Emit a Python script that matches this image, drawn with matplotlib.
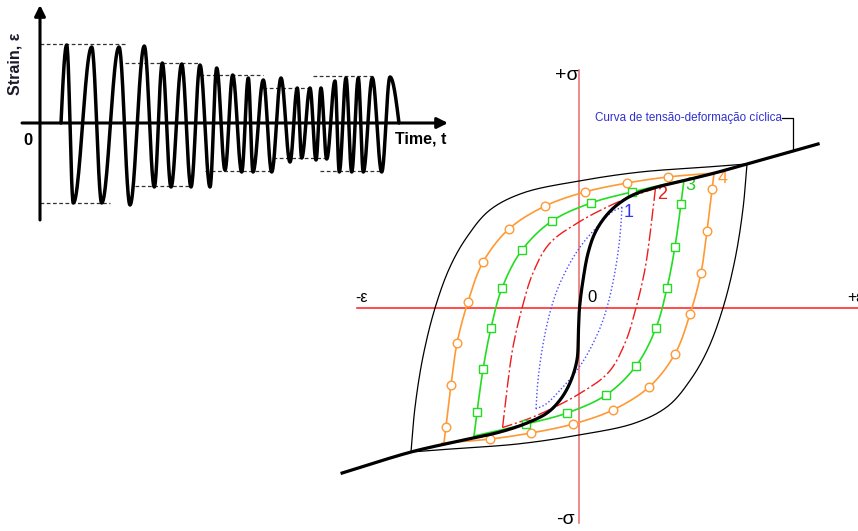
import numpy as np
import matplotlib
matplotlib.use('Agg')
import matplotlib.pyplot as plt

plt.rcParams['font.family'] = ['Liberation Sans', 'DejaVu Sans']

# --- strain history (time, strain) ---
sig_start = 21
sig_end = 359
peak_t = [26.7, 51.7, 79, 104.3, 122.3, 141.7, 160, 176.7, 192.7, 208.3,
          223.3, 241, 257.3, 270, 281, 295, 306, 318.3, 332.3, 350]
peak_s = [78, 76, 76, 77, 60, 59, 58, 55, 48, 45,
          43, 45, 35, 35, 35, 42, 45, 45, 45, 46]
trough_t = [33.3, 61.7, 90, 114.3, 131, 151, 170, 185, 201.7, 213,
            231.7, 250, 261.7, 276, 286.7, 299.3, 311.7, 323.3, 341.7]
trough_s = [-80, -80, -82, -64, -64, -64, -64, -47, -49, -49,
            -49, -39, -35, -37, -36, -49, -49, -49, -49]
# amplitude guide lines: (t from, t to, level)
guide_t0 = [0, 0, 85, 95, 160, 165, 223, 233, 273, 280]
guide_t1 = [85, 70, 158, 152, 223, 233, 270, 285, 333, 340]
guide_s = [79, -80, 60, -63, 48, -48, 35, -35, 47, -48]

# --- cyclic stress-strain curve (eps, sigma) ---
cyc_eps = [-1.41, -1.0, -0.74, -0.47, -0.31, -0.19, -0.113, -0.054,
           -0.012, -0.004, 0.003, 0.024, 0.054, 0.095, 0.155, 0.226, 0.321,
           0.464, 0.6, 0.8, 1.0, 1.423]
cyc_sig = [-1.146, -1.0, -0.93, -0.861, -0.799, -0.729, -0.639, -0.521,
           -0.361, -0.174, 0.0, 0.194, 0.382, 0.521, 0.632, 0.715, 0.785,
           0.84, 0.878, 0.935, 1.0, 1.139]

# loading branches of the hysteresis loops (lower tip -> upper tip),
# unloading branches are the same point-reflected through the origin
outer_eps = [-1.0, -0.976, -0.929, -0.857, -0.768, -0.667, -0.53, -0.333, 0.0, 0.363, 0.762, 1.0]
outer_sig = [-1.0, -0.688, -0.34, 0.0, 0.285, 0.493, 0.681, 0.799, 0.882, 0.944, 0.979, 1.0]

loop4_eps = [-0.804, -0.792, -0.762, -0.726, -0.661, -0.571, -0.417, -0.202, 0.036, 0.286, 0.53, 0.815]
loop4_sig = [-0.938, -0.826, -0.535, -0.243, 0.042, 0.319, 0.549, 0.708, 0.806, 0.868, 0.91, 0.938]

loop3_eps = [-0.625, -0.607, -0.571, -0.524, -0.458, -0.339, -0.161, 0.071, 0.315, 0.625]
loop3_sig = [-0.889, -0.722, -0.424, -0.139, 0.139, 0.403, 0.604, 0.729, 0.806, 0.889]

loop2_eps = [-0.455, -0.429, -0.393, -0.339, -0.274, -0.173, 0.0, 0.167, 0.304, 0.455]
loop2_sig = [-0.83, -0.569, -0.271, 0.0, 0.243, 0.451, 0.597, 0.701, 0.771, 0.83]

loop1_eps = [-0.256, -0.244, -0.214, -0.175, -0.135, -0.09, -0.035, 0.03, 0.107, 0.196, 0.256]
loop1_sig = [-0.7, -0.5, -0.25, -0.04, 0.11, 0.23, 0.35, 0.46, 0.563, 0.667, 0.7]

loop_labels = ['1', '2', '3', '4']


def smooth(xs, ys, n=16):
    # centripetal Catmull-Rom through the given points
    p = np.column_stack([xs, ys]).astype(float)
    p = np.vstack([2 * p[0] - p[1], p, 2 * p[-1] - p[-2]])
    out = [p[1]]
    for i in range(1, len(p) - 2):
        p0, p1, p2, p3 = p[i - 1], p[i], p[i + 1], p[i + 2]
        t0 = 0.0
        t1 = t0 + np.linalg.norm(p1 - p0) ** 0.5
        t2 = t1 + np.linalg.norm(p2 - p1) ** 0.5
        t3 = t2 + np.linalg.norm(p3 - p2) ** 0.5
        t = np.linspace(t1, t2, n)[1:, None]
        a1 = (t1 - t) / (t1 - t0) * p0 + (t - t0) / (t1 - t0) * p1
        a2 = (t2 - t) / (t2 - t1) * p1 + (t - t1) / (t2 - t1) * p2
        a3 = (t3 - t) / (t3 - t2) * p2 + (t - t2) / (t3 - t2) * p3
        b1 = (t2 - t) / (t2 - t0) * a1 + (t - t0) / (t2 - t0) * a2
        b2 = (t3 - t) / (t3 - t1) * a2 + (t - t1) / (t3 - t1) * a3
        c = (t2 - t) / (t2 - t1) * b1 + (t - t1) / (t2 - t1) * b2
        out.extend(c)
    out = np.array(out)
    return out[:, 0], out[:, 1]


def draw_loop(ax, eps, sig, markers=None, **kw):
    x, y = smooth(eps, sig)
    ax.plot(x, y, **kw)
    ax.plot(-x, -y, **kw)
    if markers:
        e = np.array(eps[1:-1])
        s = np.array(sig[1:-1])
        ax.plot(e, s, ls='none', **markers)
        ax.plot(-e, -s, ls='none', **markers)


fig = plt.figure(figsize=(8.58, 5.31), dpi=100)

# ---------------- strain history ----------------
ax1 = fig.add_axes([0, 0, 1, 1])
ax1.set_xlim(-40, 818)
ax1.set_ylim(-408, 123)
ax1.axis('off')

ext_t = [sig_start]
ext_s = [0]
for i in range(len(peak_t)):
    ext_t.append(peak_t[i])
    ext_s.append(peak_s[i])
    if i < len(trough_t):
        ext_t.append(trough_t[i])
        ext_s.append(trough_s[i])
ext_t.append(sig_end)
ext_s.append(0)

wt, ws = [], []
nseg = len(ext_t) - 1
for i in range(nseg):
    u = np.linspace(0, 1, 25)
    t = ext_t[i] + (ext_t[i + 1] - ext_t[i]) * u
    if i == 0:
        v = ext_s[1] * np.sin(np.pi / 2 * u)
    elif i == nseg - 1:
        v = ext_s[i] * np.cos(np.pi / 2 * u)
    else:
        v = ext_s[i] + (ext_s[i + 1] - ext_s[i]) * (1 - np.cos(np.pi * u)) / 2
    wt.extend(t)
    ws.extend(v)
ax1.plot(wt, ws, color='black', lw=2.5, solid_capstyle='round', zorder=3)

for a, b, s in zip(guide_t0, guide_t1, guide_s):
    ax1.plot([a, b], [s, s], color='#333333', lw=0.9, ls=(0, (3, 2)), zorder=2)

ax1.annotate('', xy=(0, 118), xytext=(0, -97),
             arrowprops=dict(arrowstyle='-|>', lw=2.2, color='black',
                             mutation_scale=16, shrinkA=0, shrinkB=0))
ax1.annotate('', xy=(408, 0), xytext=(-18, 0),
             arrowprops=dict(arrowstyle='-|>', lw=2.2, color='black',
                             mutation_scale=16, shrinkA=0, shrinkB=0))
ax1.text(-12, -17, '0', fontsize=12, fontweight='bold', ha='center', va='center')
ax1.text(355, -16, 'Time, t', fontsize=11.5, fontweight='bold', ha='left', va='center')
ax1.text(-25, 59, 'Strain, ε', fontsize=11.5, fontweight='bold', ha='center',
         va='center', rotation=90, color='#1a1a2a')

# ---------------- hysteresis loops ----------------
ax2 = fig.add_axes([0, 0, 1, 1])
ax2.patch.set_alpha(0)
ax2.set_xlim(-579 / 168, 279 / 168)
ax2.set_ylim(-223 / 144, 308 / 144)
ax2.axis('off')

ax2.plot([-1.321, 1.7], [0, 0], color='#ff1a1a', lw=1.1, zorder=1)
ax2.plot([0, 0], [-1.495, 1.653], color='#e86a6a', lw=1.1, zorder=1)

draw_loop(ax2, outer_eps, outer_sig, color='black', lw=0.9, zorder=2)
draw_loop(ax2, loop4_eps, loop4_sig, color='#ff9933', lw=1.2, zorder=3,
          markers=dict(marker='o', ms=6.2, mfc='white', mec='#ff9933', mew=1.0, zorder=4))
draw_loop(ax2, loop3_eps, loop3_sig, color='#22dd22', lw=1.2, zorder=3,
          markers=dict(marker='s', ms=5.3, mfc='white', mec='#22dd22', mew=1.0, zorder=4))
draw_loop(ax2, loop2_eps, loop2_sig, color='#ee1c1c', lw=1.0, zorder=3,
          dashes=(9, 2, 1.5, 2))
draw_loop(ax2, loop1_eps, loop1_sig, color='#4848ff', lw=1.0, zorder=3,
          dashes=(1, 1.6))

cx, cy = smooth(cyc_eps, cyc_sig)
ax2.plot(cx, cy, color='black', lw=2.3, zorder=5)

# labels at the upper tips
label_tips = [loop1_eps[-1], loop2_eps[-1], loop3_eps[-1], loop4_eps[-1]]
label_sig = [loop1_sig[-1], loop2_sig[-1], loop3_sig[-1], loop4_sig[-1]]
label_cols = ['#3333ee', '#ee1c1c', '#22cc22', '#ff9933']
for lab, e, s, c in zip(loop_labels, label_tips, label_sig, label_cols):
    ax2.text(e + 0.04, s - 0.04, lab, color=c, fontsize=13, ha='center', va='center')

ax2.text(-0.071, 1.618, '+σ', fontsize=14, ha='center', va='center')
ax2.text(-0.083, -1.472, '-σ', fontsize=14, ha='center', va='center')
ax2.text(-1.292, 0.076, '-ε', fontsize=11.5, ha='center', va='center')
ax2.text(1.595, 0.076, '+ε', fontsize=11.5, ha='left', va='center')
ax2.text(0.077, 0.076, '0', fontsize=12, ha='center', va='center')

# leader to the cyclic curve
lead_e = 1.274
lead_s = np.interp(lead_e, cyc_eps, cyc_sig)
ax2.plot([1.21, lead_e, lead_e], [1.32, 1.32, lead_s], color='black', lw=0.9, zorder=5)
ax2.text(1.208, 1.32, 'Curva de tensão-deformação cíclica', color='#3030d0',
         fontsize=8.4, ha='right', va='center')

fig.savefig('out.png', dpi=100)
